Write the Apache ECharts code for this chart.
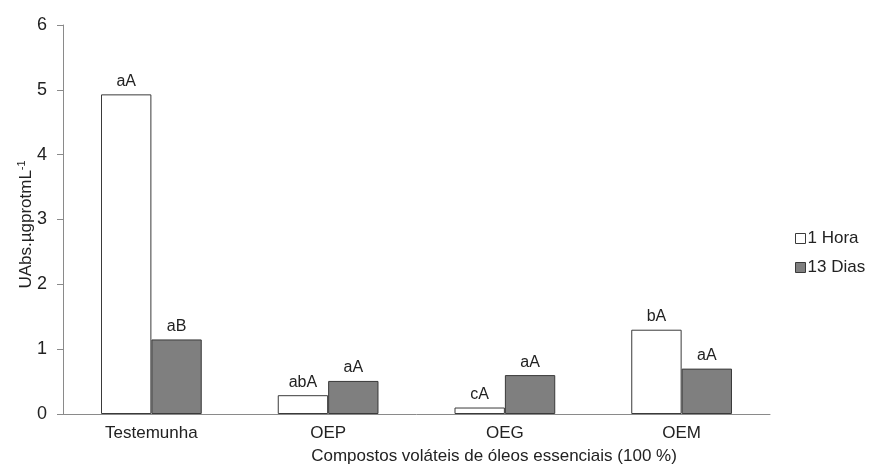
<!DOCTYPE html>
<html><head><meta charset="utf-8">
<script src="https://cdn.jsdelivr.net/npm/echarts@6/dist/echarts.min.js"></script>
<style>html,body{margin:0;padding:0;background:#fff}#c{width:873px;height:471px}</style>
</head><body><div id="c"></div>
<script>
const categories = ['Testemunha', 'OEP', 'OEG', 'OEM'];
const seriesNames = ['1 Hora', '13 Dias'];
const hora1 = [4.93, 0.29, 0.10, 1.30];
const dias13 = [1.15, 0.51, 0.60, 0.70];
const labels1 = ['aA', 'abA', 'cA', 'bA'];
const labels13 = ['aB', 'aA', 'aA', 'aA'];
const yTicks = [0, 1, 2, 3, 4, 5, 6];

const font = 'Liberation Sans, Arial, sans-serif';
const chart = echarts.init(document.getElementById('c'));
function mk(name, vals, labs, color) {
  return {
    name: name, type: 'bar', data: vals, barGap: '0%', barCategoryGap: '43%',
    itemStyle: { color: color, borderColor: '#3a3a3a', borderWidth: 1 },
    label: { show: true, position: 'top', distance: 5, fontFamily: font, fontSize: 16, color: '#222',
      formatter: p => labs[p.dataIndex] },
    emphasis: { disabled: true }
  };
}
chart.setOption({
  animation: false,
  textStyle: { fontFamily: font },
  grid: { left: 63, right: 103, top: 25, bottom: 57 },
  title: { text: 'Compostos voláteis de óleos essenciais (100 %)', left: 494, top: 448, padding: 0,
    textAlign: 'center',
    textStyle: { fontFamily: font, fontSize: 17, fontWeight: 'normal', color: '#222' } },
  legend: { orient: 'vertical', left: 790, top: 225, itemWidth: 10, itemHeight: 10, itemGap: 12,
    icon: 'rect', data: seriesNames,
    itemStyle: { borderWidth: 1, borderColor: '#3a3a3a' },
    textStyle: { fontFamily: font, fontSize: 17, color: '#222', padding: [0, 0, 0, -3] } },
  xAxis: { type: 'category', data: categories,
    axisLine: { lineStyle: { color: '#8a8a8a' } }, axisTick: { show: false },
    axisLabel: { fontFamily: font, fontSize: 17, color: '#222', margin: 11 } },
  yAxis: { type: 'value', min: yTicks[0], max: yTicks[yTicks.length - 1], interval: 1,
    name: '{a|UAbs.µgprotmL}{b|-1}', nameLocation: 'middle', nameGap: 27, nameRotate: 90,
    nameMoveOverlap: false,
    nameTextStyle: { padding: [0, 10, 0, 0], rich: { a: { fontFamily: font, fontSize: 17, color: '#222' },
      b: { fontFamily: font, fontSize: 11, color: '#222', verticalAlign: 'top', padding: [0, 0, 9, 0] } } },
    axisLine: { show: true, lineStyle: { color: '#8a8a8a' } },
    axisTick: { show: true, inside: false, length: 6, lineStyle: { color: '#8a8a8a' } },
    splitLine: { show: false },
    axisLabel: { fontFamily: font, fontSize: 18, color: '#222', margin: 16 } },
  series: [mk(seriesNames[0], hora1, labels1, '#ffffff'), mk(seriesNames[1], dias13, labels13, '#7f7f7f')]
});
</script></body></html>
